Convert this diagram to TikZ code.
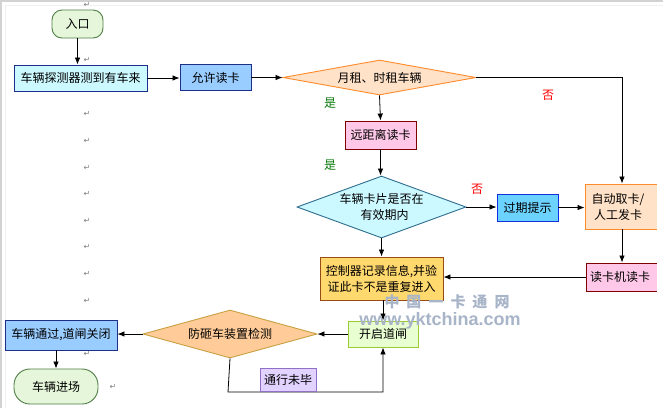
\documentclass[tikz,border=0pt]{standalone}
\usepackage{fontspec}
\setmainfont{Liberation Sans}
\newfontfamily\cjk{Noto Sans CJK SC}
\newfontfamily\dvs{DejaVu Sans}
\usetikzlibrary{shapes.geometric,arrows.meta}
\definecolor{entryfill}{HTML}{E6F6DA}
\definecolor{entrydraw}{HTML}{4F7F46}
\definecolor{cyanfill}{HTML}{CCF8FF}
\definecolor{navy}{HTML}{1C2F8A}
\definecolor{bluefill}{HTML}{99CCFF}
\definecolor{peachfill}{HTML}{FFE2C8}
\definecolor{orangedraw}{HTML}{FF8A2A}
\definecolor{pinkfill}{HTML}{FFC8E8}
\definecolor{maroon}{HTML}{800000}
\definecolor{tealdraw}{HTML}{2E6E8E}
\definecolor{skyfill}{HTML}{6CD2FF}
\definecolor{bluedraw}{HTML}{1030E0}
\definecolor{goldfill}{HTML}{FFD86E}
\definecolor{browndraw}{HTML}{9A4A14}
\definecolor{limefill}{HTML}{E8FFD2}
\definecolor{limedraw}{HTML}{9ACD32}
\definecolor{tanfill}{HTML}{FFCC99}
\definecolor{tandraw}{HTML}{C8A040}
\definecolor{lilacfill}{HTML}{E2D2FF}
\definecolor{lilacdraw}{HTML}{9070C8}
\definecolor{yesgreen}{HTML}{0A7A0A}
\definecolor{wmark}{HTML}{A8B4C8}
\begin{document}
\begin{tikzpicture}[x=1pt,y=-1pt,
  box/.style={draw, rectangle, inner sep=0pt, line width=0.9pt, align=center,
    font=\cjk\fontsize{12}{16}\selectfont},
  dia/.style={draw, diamond, inner sep=0pt, line width=0.9pt, align=center,
    font=\cjk\fontsize{12}{16}\selectfont},
  arr/.style={-{Latex[length=7pt,width=5.5pt]}, line width=0.8pt},
  pm/.style={text=gray, font=\dvs\fontsize{8}{8}\selectfont, inner sep=0pt},
  yes/.style={text=yesgreen, font=\cjk\fontsize{12}{12}\selectfont, inner sep=0pt},
  no/.style={text=red, font=\cjk\fontsize{12}{12}\selectfont, inner sep=0pt}]
\useasboundingbox (0,0) rectangle (663,408);
\fill[white] (0,0) rectangle (663,408);
\draw[gray!35, line width=1.5pt] (1,408) -- (1,1) -- (663,1);
\draw[gray!12, line width=1pt] (5,408) -- (5,5) -- (663,5);

% nodes
\node[box, fill=entryfill, draw=entrydraw, rounded corners=10pt,
  minimum width=51pt, minimum height=28pt] (entry) at (77.5,24) {入口};
\node[box, fill=cyanfill, draw=navy, minimum width=133pt, minimum height=26pt]
  (det) at (80.5,78) {车辆探测器测到有车来};
\node[box, fill=bluefill, draw=navy, minimum width=71pt, minimum height=26pt]
  (allow) at (215.5,77.5) {允许读卡};
\node[dia, fill=peachfill, draw=orangedraw, aspect=5.5,
  minimum width=193pt, minimum height=35pt] (d1) at (379.5,77.5) {月租、时租车辆};
\node[box, fill=pinkfill, draw=maroon, minimum width=71pt, minimum height=28pt]
  (far) at (380.5,135) {远距离读卡};
\node[dia, fill=cyanfill, draw=tealdraw, aspect=2.7,
  minimum width=169pt, minimum height=62pt] (d2) at (381.5,207) {车辆卡片是否在\\\hspace*{6pt}有效期内};
\node[box, fill=skyfill, draw=bluedraw, minimum width=61pt, minimum height=27pt]
  (expire) at (527.5,207.5) {过期提示};
\node[box, fill=peachfill, draw=orangedraw, minimum width=74pt, minimum height=45pt]
  (auto) at (622,206.5) {\hspace*{-8pt}自动取卡/\\\hspace*{-8pt}人工发卡};
\node[box, fill=pinkfill, draw=maroon, minimum width=72pt, minimum height=28pt]
  (reader) at (622,277) {\hspace*{-4pt}读卡机读卡};
\node[box, fill=goldfill, draw=browndraw, minimum width=123pt, minimum height=43pt]
  (ctrl) at (381.5,278.5) {控制器记录信息,并验\\证此卡不是重复进入};
\node[box, fill=limefill, draw=limedraw, minimum width=70pt, minimum height=26pt]
  (open) at (383,334) {开启道闸};
\node[dia, fill=tanfill, draw=tandraw, aspect=3.6,
  minimum width=174pt, minimum height=48pt] (d3) at (230,334) {防砸车装置检测};
\node[box, fill=bluefill, draw=navy, minimum width=112pt, minimum height=30pt]
  (pass) at (61,335) {车辆通过,道闸关闭};
\node[box, fill=entryfill, draw=entrydraw, rounded corners=16pt,
  minimum width=84pt, minimum height=35pt] (enter) at (56,386.5) {车辆进场};

% cut at right page edge
\fill[white] (656.5,150) rectangle (663,300);

% connectors
\draw[arr] (entry.south) -- (entry.south |- det.north);
\draw[arr] (det.east) -- (det.east -| allow.west);
\draw[arr] (allow.east) -- (allow.east -| d1.west);
\draw[arr] (d1.south) -- (far.north);
\draw[arr] (far.south) -- (far.south |- d2.north);
\draw[arr] (d2.south) -- (d2.south |- ctrl.north);
\draw[arr] (d2.east) -- (d2.east -| expire.west);
\draw[arr] (expire.east) -- (expire.east -| auto.west);
\coordinate (c1) at (622,77.5);
\draw[arr] (d1.east) -- (c1) -- (auto.north);
\draw[arr] (auto.south) -- (reader.north);
\draw[arr] (reader.west) -- (reader.west -| ctrl.east);
\draw[arr] (open.north |- ctrl.south) -- (open.north);
\draw[arr] (open.west) -- (open.west -| d3.east);
\draw[arr] (d3.west) -- (d3.west -| pass.east);
\draw[arr] (enter.north |- pass.south) -- (enter.north);
\coordinate (c2) at (228,392);
\coordinate (c3) at (383,392);
\draw[arr] (d3.south) -- (c2) -- (c3) -- (open.south);
\node[box, fill=lilacfill, draw=lilacdraw, minimum width=56pt, minimum height=23pt]
  (notdone) at (288,379.5) {通行未毕};

% branch labels
\node[yes] (y1) at (330,103) {是};
\node[yes] (y2) at (330,165) {是};
\node[no] (n1) at (548,95) {否};
\node[no] (n2) at (477,189) {否};

% paragraph marks
\foreach \yy/\nm in {5/a,60/b,114/c,141/d,168/e,194/f,221/g,247/h,274/i,301/j,354/k}
  \node[pm] (pm\nm) at (87,\yy) {↵};
\node[pm] (pml) at (113,387) {↵};

% watermark
\node[text=wmark, font=\cjk\bfseries\fontsize{15}{15}\selectfont, inner sep=0pt]
  (wm1) at (447,302) {中\hspace{7pt}国\hspace{7pt}一\hspace{7pt}卡\hspace{7pt}通\hspace{7pt}网};
\node[text=wmark, font=\bfseries\fontsize{18}{18}\selectfont, inner sep=0pt]
  (wm2) at (440,321) {www.yktchina.com};
\end{tikzpicture}
\end{document}
